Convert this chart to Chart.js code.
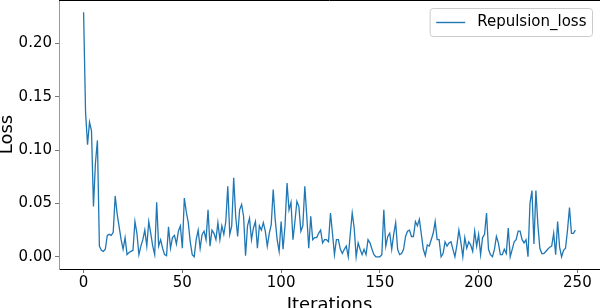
<!DOCTYPE html>
<html>
<head>
<meta charset="utf-8">
<title>Repulsion loss</title>
<script src="https://cdn.jsdelivr.net/npm/chart.js@4.4.0/dist/chart.umd.min.js"></script>
<style>
  html, body { margin: 0; padding: 0; background: #ffffff; }
  #wrap { width: 600px; height: 308px; position: relative; }
</style>
</head>
<body>
<div id="wrap"><canvas id="lossChart"></canvas></div>
<script>
// Loss values, one per iteration (0..249), split in chunks
const lossStart = [
  0.229, 0.135, 0.105, 0.126, 0.118, 0.047, 0.088, 0.109, 0.010, 0.006,
  0.005, 0.007, 0.020, 0.021, 0.020, 0.023, 0.057, 0.040, 0.028, 0.016,
  0.007, 0.018, 0.002, 0.004, 0.005, 0.006, 0.033, 0.022, 0.002
];
const lossEarly = [
  0.010, 0.016, 0.025, 0.010, 0.033, 0.022, 0.010, 0.002, 0.051, 0.010,
  0.016, 0.008, 0.002, 0.001, 0.028, 0.008, 0.018, 0.020, 0.012, 0.024,
  0.029, 0.008, 0.055, 0.042, 0.032, 0.014, 0.002, 0.000, 0.016, 0.025,
  0.008, 0.021, 0.024, 0.016, 0.044, 0.010, 0.025, 0.022, 0.016, 0.032,
  0.016, 0.029, 0.021, 0.033, 0.066, 0.021, 0.029, 0.074, 0.038, 0.019,
  0.044, 0.049, 0.038, 0.001, 0.029, 0.036, 0.016, 0.027, 0.033, 0.008,
  0.029, 0.025, 0.032, 0.024, 0.010, 0.022, 0.030, 0.063, 0.035, 0.016,
  0.005, 0.033, 0.007, 0.030, 0.069, 0.044, 0.051, 0.016, 0.033, 0.052,
  0.047, 0.024
];
const lossMid = [
  0.029, 0.066, 0.038, 0.008, 0.038, 0.016, 0.018,
  0.018, 0.022, 0.025, 0.013, 0.016, 0.016, 0.014, 0.041, 0.022, 0.002,
  0.016, 0.016, 0.007, 0.003, 0.007, 0.010, 0.000, 0.021, 0.041, 0.027,
  0.000, 0.013, 0.007, 0.002, 0.007, 0.002, 0.016, 0.013, 0.007, 0.002,
  0.000, 0.000, 0.000, 0.002, 0.044, 0.010, 0.019, 0.022, 0.007, 0.021,
  0.032, 0.007, 0.002, 0.003, 0.007, 0.019, 0.024, 0.025, 0.019, 0.019,
  0.033, 0.029, 0.035, 0.021, 0.007, 0.001, 0.011, 0.010, 0.016, 0.022,
  0.033, 0.016, 0.016, 0.000, 0.003, 0.014, 0.010
];
const lossLate = [
  0.013, 0.014,
  0.007, 0.000, 0.011, 0.025, 0.014, 0.000, 0.018, 0.008, 0.014, 0.011,
  0.005, 0.024, 0.010, 0.021, 0.002, 0.018, 0.021, 0.041, 0.007, 0.002,
  0.000, 0.007, 0.019, 0.013, 0.002, 0.002, 0.007, 0.003, 0.027, 0.000,
  0.007, 0.014, 0.016, 0.024, 0.024, 0.016, 0.013, 0.016, 0.000, 0.050
];
const lossEnd = [
  0.062, 0.012, 0.062, 0.030, 0.008, 0.003, 0.003, 0.005, 0.007, 0.009,
  0.010, 0.022, 0.002, 0.033, 0.009, 0.000, 0.006, 0.008, 0.025, 0.046,
  0.022, 0.022, 0.025
];

// Tick labels of both axes
const xTicks = [0, 50, 100, 150, 200, 250];
const yTicks = [0.00, 0.05, 0.10, 0.15, 0.20];

const seriesName = 'Repulsion_loss';
const lineColor = '#1f77b4';

const loss = [].concat(lossStart, lossEarly, lossMid, lossLate, lossEnd);
const points = loss.map((v, i) => ({ x: i, y: v }));

Chart.defaults.font.family = "'DejaVu Sans', sans-serif";
Chart.defaults.color = '#000000';

// Top spine + matplotlib style legend box in the upper right corner
const frameAndLegend = {
  id: 'frameAndLegend',
  afterDraw(chart) {
    const { ctx, chartArea } = chart;
    ctx.save();

    // top spine
    ctx.strokeStyle = '#000000';
    ctx.lineWidth = 1;
    ctx.beginPath();
    ctx.moveTo(chartArea.left, chartArea.top + 0.5);
    ctx.lineTo(chartArea.right, chartArea.top + 0.5);
    ctx.stroke();

    // legend
    ctx.font = "15px 'DejaVu Sans'";
    const label = chart.data.datasets[0].label;
    const textW = ctx.measureText(label).width;
    const pad = 6, handle = 29, gap = 12;
    const right = chartArea.right - 7.5;
    const top = chartArea.top + 8.5;
    const h = 28;
    const w = pad + handle + gap + textW + pad;
    const left = right - w;

    ctx.beginPath();
    ctx.roundRect(left, top, w, h, 3);
    ctx.fillStyle = 'rgba(255,255,255,0.8)';
    ctx.fill();
    ctx.strokeStyle = '#cccccc';
    ctx.lineWidth = 1;
    ctx.stroke();

    const midY = top + h / 2;
    ctx.strokeStyle = lineColor;
    ctx.lineWidth = 1.4;
    ctx.beginPath();
    ctx.moveTo(left + pad, midY);
    ctx.lineTo(left + pad + handle, midY);
    ctx.stroke();

    ctx.fillStyle = '#000000';
    ctx.textBaseline = 'middle';
    ctx.textAlign = 'left';
    ctx.fillText(label, left + pad + handle + gap, midY);
    ctx.restore();
  }
};

const ctx = document.getElementById('lossChart').getContext('2d');
new Chart(ctx, {
  type: 'line',
  data: {
    datasets: [{
      label: seriesName,
      data: points,
      borderColor: lineColor,
      borderWidth: 1.3,
      pointRadius: 0,
      fill: false,
      tension: 0
    }]
  },
  options: {
    responsive: true,
    maintainAspectRatio: false,
    animation: false,
    layout: { padding: 0 },
    plugins: {
      legend: { display: false },
      tooltip: { enabled: false }
    },
    scales: {
      x: {
        type: 'linear',
        min: -12.45,
        max: 261.45,
        afterBuildTicks: (scale) => { scale.ticks = xTicks.map(v => ({ value: v })); },
        afterFit: (scale) => {
          scale.height = 39;
          scale.paddingLeft = 0;
          scale.paddingRight = 0;
        },
        grid: { drawOnChartArea: false, tickLength: 4, color: '#777777' },
        border: { color: '#000000', width: 1 },
        ticks: {
          font: { size: 15 },
          color: '#000000',
          padding: 1,
          maxRotation: 0,
          autoSkip: false
        },
        title: {
          display: true,
          text: 'Iterations',
          font: { size: 18, lineHeight: 1 },
          color: '#000000',
          padding: { top: 0, bottom: -6 }
        }
      },
      y: {
        min: -0.01145,
        max: 0.2405,
        afterBuildTicks: (scale) => { scale.ticks = yTicks.map(v => ({ value: v })); },
        afterFit: (scale) => {
          scale.width = 59;
          scale.paddingTop = 0;
          scale.paddingBottom = 0;
        },
        grid: { drawOnChartArea: false, tickLength: 4, color: '#777777' },
        border: { color: '#999999', width: 1 },
        ticks: {
          font: { size: 15 },
          color: '#000000',
          padding: 3,
          callback: (v) => Number(v).toFixed(2)
        },
        title: {
          display: true,
          text: 'Loss',
          font: { size: 18, lineHeight: 1 },
          color: '#000000',
          padding: { top: -2, bottom: 0 }
        }
      }
    }
  },
  plugins: [frameAndLegend]
});
</script>
</body>
</html>
